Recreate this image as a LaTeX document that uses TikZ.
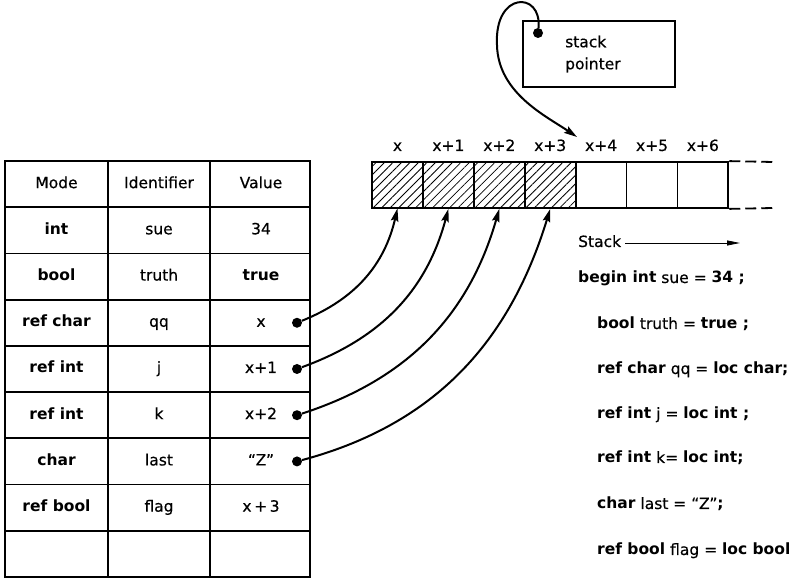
\documentclass[tikz,border=0pt]{standalone}
\usepackage{fontspec}
\setmainfont{DejaVu Sans}[UprightFeatures={FakeBold=0.5}]
\usetikzlibrary{patterns.meta,arrows.meta}
\begin{document}
\begin{tikzpicture}[x=1pt,y=1pt,
  every node/.style={font=\fontsize{15.5}{17}\selectfont},
  grid/.style={line width=1.8pt},
  cell/.style={draw, line width=1.8pt, minimum width=50.9pt, minimum height=46pt, inner sep=0pt},
  hatched/.style={cell, pattern={Lines[angle=45,distance=6pt,line width=0.8pt]}},
  lbl/.style={inner sep=0pt, text height=11pt, text depth=3pt},
  code/.style={lbl, anchor=west},
  dot/.style={circle, fill, inner sep=0pt, minimum size=10pt},
  ref/.style={line width=2pt, -{Stealth[length=13pt,width=7.5pt,inset=2pt]}},
  ext/.style={line width=1.8pt, dash pattern=on 11pt off 5pt}]
\useasboundingbox (0,0) rectangle (793,581);

% symbol table
\draw[grid] (5,4) rectangle (310,420);
\draw[grid] (108,4) -- (108,420) (210,4) -- (210,420);
\foreach \k in {1,...,8} \draw[grid] (5,420-46.22*\k) -- (310,420-46.22*\k);

\foreach \r/\m/\i/\v [count=\k from 0] in {
  Mode/Identifier/Value,
  \textbf{int}/sue/34,
  \textbf{bool}/truth/\textbf{true},
  \textbf{ref char}/qq/x,
  \textbf{ref int}/j/x+1,
  \textbf{ref int}/k/x+2,
  \textbf{char}/last/“Z”,
  \textbf{ref bool}/flag/x\,+\,3}
{
  \node[lbl] (mode\k) at (56.5,420-46.22*\k-23.11) {\r};
  \node[lbl] (ident\k) at (159,420-46.22*\k-23.11) {\m};
  \node[lbl] (val\k) at (261,420-46.22*\k-23.11) {\v};
}

% pointer dots in the value column
\foreach \k in {3,4,5,6} \node[dot] (d\k) at (297,420-46.22*\k-23.11) {};

% the stack
\foreach \k/\t in {0/x,1/x+1,2/x+2,3/x+3,4/x+4,5/x+5,6/x+6} {
  \node[lbl] (l\k) at (397.5+50.9*\k,434) {\t};
}
\foreach \k in {0,...,3} \node[hatched] (s\k) at (397.5+50.9*\k,396) {};
\foreach \k in {4,...,6} \node[cell] (s\k) at (397.5+50.9*\k,396) {};
\coordinate (et) at (773,419);
\coordinate (eb) at (773,373);
\draw[ext] (s6.north east) -- (et);
\draw[ext] (s6.south east) -- (eb);

% references from the table into the stack
\draw[ref] (d3) to[out=22,in=-103] (s0.south);
\draw[ref] (d4) to[out=20,in=-105] (s1.south);
\draw[ref] (d5) to[out=18,in=-106] (s2.south);
\draw[ref] (d6) to[out=15,in=-107] (s3.south);

% stack pointer
\node[draw, line width=1.8pt, minimum width=152pt, minimum height=66pt, inner sep=0pt] (sp) at (599,527) {};
\node[anchor=west, align=left, inner sep=0pt, font=\fontsize{15.5}{22}\selectfont] (sptxt) at (565,527) {stack\\pointer};
\node[dot] (spdot) at (538,548) {};
\coordinate (top) at (577,444);
\draw[ref] (spdot) .. controls (542,590) and (494,590) .. (497,536)
  .. controls (498,488) and (546,465) .. (top);

% program text
\node[code] (stk) at (578,338) {Stack};
\coordinate (stkend) at (740,338);
\draw[line width=0.8pt, -{Triangle[length=13pt,width=5pt]}] ([xshift=4pt]stk.east) -- (stkend);
\node[code] (c1) at (578,302) {\textbf{begin int} sue = \textbf{34 ;}};
\node[code] (c2) at (597,256) {\textbf{bool} truth = \textbf{true ;}};
\node[code] (c3) at (597,211) {\textbf{ref char} qq = \textbf{loc char;}};
\node[code] (c4) at (597,166) {\textbf{ref int} j = \textbf{loc int ;}};
\node[code] (c5) at (597,122) {\textbf{ref int} k= \textbf{loc int;}};
\node[code] (c6) at (597,76) {\textbf{char} last = “Z”\textbf{;}};
\node[code] (c7) at (597,30) {\textbf{ref bool} flag = \textbf{loc bool}};
\end{tikzpicture}
\end{document}
